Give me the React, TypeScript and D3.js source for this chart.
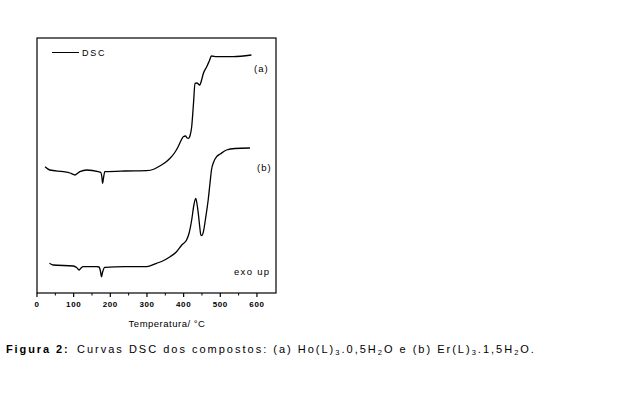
import React, { useEffect, useRef } from "react";
import * as d3 from "d3";

// Curve (a): Ho(L)3.0,5H2O  — temperature (°C) vs heat flow (arbitrary units)
const tempA = [22, 35, 72, 90, 104, 110, 117, 136, 167, 174, 177, 179, 181, 185, 240, 299, 320, 335, 350, 363, 375, 385, 393, 399, 405, 410, 413, 418, 422, 427, 431, 436, 444, 449, 454, 463, 470, 476, 490, 535, 585];
const flowA = [126.3, 123, 121.3, 120, 118, 119.5, 121.3, 123, 121.3, 120.5, 116, 109.7, 114, 121.3, 122, 122.3, 124, 127, 130.5, 134.7, 140, 146.3, 152.5, 156.3, 157, 155, 154.7, 158, 166.3, 190, 209.7, 210, 208, 213, 219.7, 226.3, 232, 237, 236.3, 236.3, 238];

// Curve (b): Er(L)3.1,5H2O
const tempB = [34, 44, 99, 108, 115, 120, 126, 163, 169, 173, 176, 179, 185, 240, 299, 326, 340, 363, 380, 395, 408, 415, 422, 428, 433, 437, 440, 444, 447, 450, 454, 460, 467, 472, 476, 482, 490, 500, 517, 540, 581];
const flowB = [29.7, 28, 27, 25.5, 23, 25, 26.3, 26.3, 26, 22, 16.3, 21, 25.7, 26.3, 26.3, 29.7, 31.5, 36.3, 41, 48, 53, 60, 73, 88, 94.7, 88, 79.7, 66, 58, 57.5, 61.3, 75, 93, 110, 123, 131, 136.3, 139, 143, 144.5, 145];

const majorTicks = [0, 100, 200, 300, 400, 500, 600];
const minorTicks = [50, 150, 250, 350, 450, 550];

export default function App() {
  const ref = useRef<SVGSVGElement | null>(null);

  useEffect(() => {
    document.body.style.margin = "0";
    const svg = d3.select(ref.current);
    svg.selectAll("*").remove();

    const left = 37, right = 276, top = 38, bottom = 293;
    const x = d3.scaleLinear().domain([0, 652]).range([left, right]);
    const y = d3.scaleLinear().domain([0, 255]).range([bottom, top]);

    // frame
    svg.append("rect")
      .attr("x", left).attr("y", top)
      .attr("width", right - left).attr("height", bottom - top)
      .attr("fill", "none").attr("stroke", "#000").attr("stroke-width", 1.2);

    // bottom ticks
    const g = svg.append("g");
    g.selectAll("line.maj").data(majorTicks).enter().append("line")
      .attr("x1", (d) => x(d)).attr("x2", (d) => x(d))
      .attr("y1", bottom).attr("y2", bottom + 4)
      .attr("stroke", "#000").attr("stroke-width", 1.2);
    g.selectAll("line.min").data(minorTicks).enter().append("line")
      .attr("x1", (d) => x(d)).attr("x2", (d) => x(d))
      .attr("y1", bottom).attr("y2", bottom + 2.5)
      .attr("stroke", "#000").attr("stroke-width", 1);
    g.selectAll("text.tl").data(majorTicks).enter().append("text")
      .attr("x", (d) => x(d)).attr("y", 307)
      .attr("text-anchor", "middle")
      .attr("font-family", "Liberation Sans, Arial, sans-serif")
      .attr("font-weight", "bold")
      .attr("font-size", 8)
      .attr("letter-spacing", 0.6)
      .text((d) => String(d));

    // axis label
    svg.append("text")
      .attr("x", 167).attr("y", 327)
      .attr("text-anchor", "middle")
      .attr("font-family", "Liberation Sans, Arial, sans-serif")
      .attr("font-size", 9.5)
      .attr("letter-spacing", 0.5)
      .text("Temperatura/ °C");

    const line = d3.line<[number, number]>()
      .x((d) => x(d[0])).y((d) => y(d[1]))
      .curve(d3.curveMonotoneX);

    const dataA: [number, number][] = tempA.map((t, i) => [t, flowA[i]]);
    const dataB: [number, number][] = tempB.map((t, i) => [t, flowB[i]]);

    svg.append("path").attr("d", line(dataA)!)
      .attr("fill", "none").attr("stroke", "#000").attr("stroke-width", 1.3);
    svg.append("path").attr("d", line(dataB)!)
      .attr("fill", "none").attr("stroke", "#000").attr("stroke-width", 1.3);

    // legend
    svg.append("line")
      .attr("x1", 52).attr("x2", 79).attr("y1", 52.5).attr("y2", 52.5)
      .attr("stroke", "#000").attr("stroke-width", 1);
    svg.append("text")
      .attr("x", 82).attr("y", 56)
      .attr("font-family", "Liberation Sans, Arial, sans-serif")
      .attr("font-size", 9).attr("letter-spacing", 1.8)
      .text("DSC");

    const lab = (tx: number, ty: number, s: string, ls: number) =>
      svg.append("text").attr("x", tx).attr("y", ty)
        .attr("font-family", "Liberation Sans, Arial, sans-serif")
        .attr("font-size", 9.5).attr("letter-spacing", ls).text(s);
    lab(254, 71.5, "(a)", 1);
    lab(257, 170.5, "(b)", 1);
    lab(234, 275, "exo up", 1.3);

    // caption
    const cap = svg.append("text")
      .attr("y", 353)
      .attr("font-family", "Liberation Sans, Arial, sans-serif")
      .attr("font-size", 11);
    cap.append("tspan").attr("x", 6).attr("font-weight", "bold")
      .attr("letter-spacing", 1.9).text("Figura 2:");
    const rest = svg.append("text")
      .attr("y", 353)
      .attr("font-family", "Liberation Sans, Arial, sans-serif")
      .attr("font-size", 11)
      .attr("letter-spacing", 2.0);
    const parts: [string, boolean][] = [
      ["Curvas DSC dos compostos: (a) Ho(L)", false],
      ["3", true],
      [".0,5H", false],
      ["2", true],
      ["O e (b) Er(L)", false],
      ["3", true],
      [".1,5H", false],
      ["2", true],
      ["O.", false],
    ];
    let first = true;
    let sub = false;
    parts.forEach(([s, isSub]) => {
      const t = rest.append("tspan").text(s);
      if (first) { t.attr("x", 77); first = false; }
      if (isSub && !sub) { t.attr("dy", 2).attr("font-size", 7.5); sub = true; }
      else if (isSub) { t.attr("font-size", 7.5); }
      else if (!isSub && sub) { t.attr("dy", -2); sub = false; }
    });
  }, []);

  return (
    <svg ref={ref} width={640} height={400} style={{ display: "block", background: "#fff" }} />
  );
}
